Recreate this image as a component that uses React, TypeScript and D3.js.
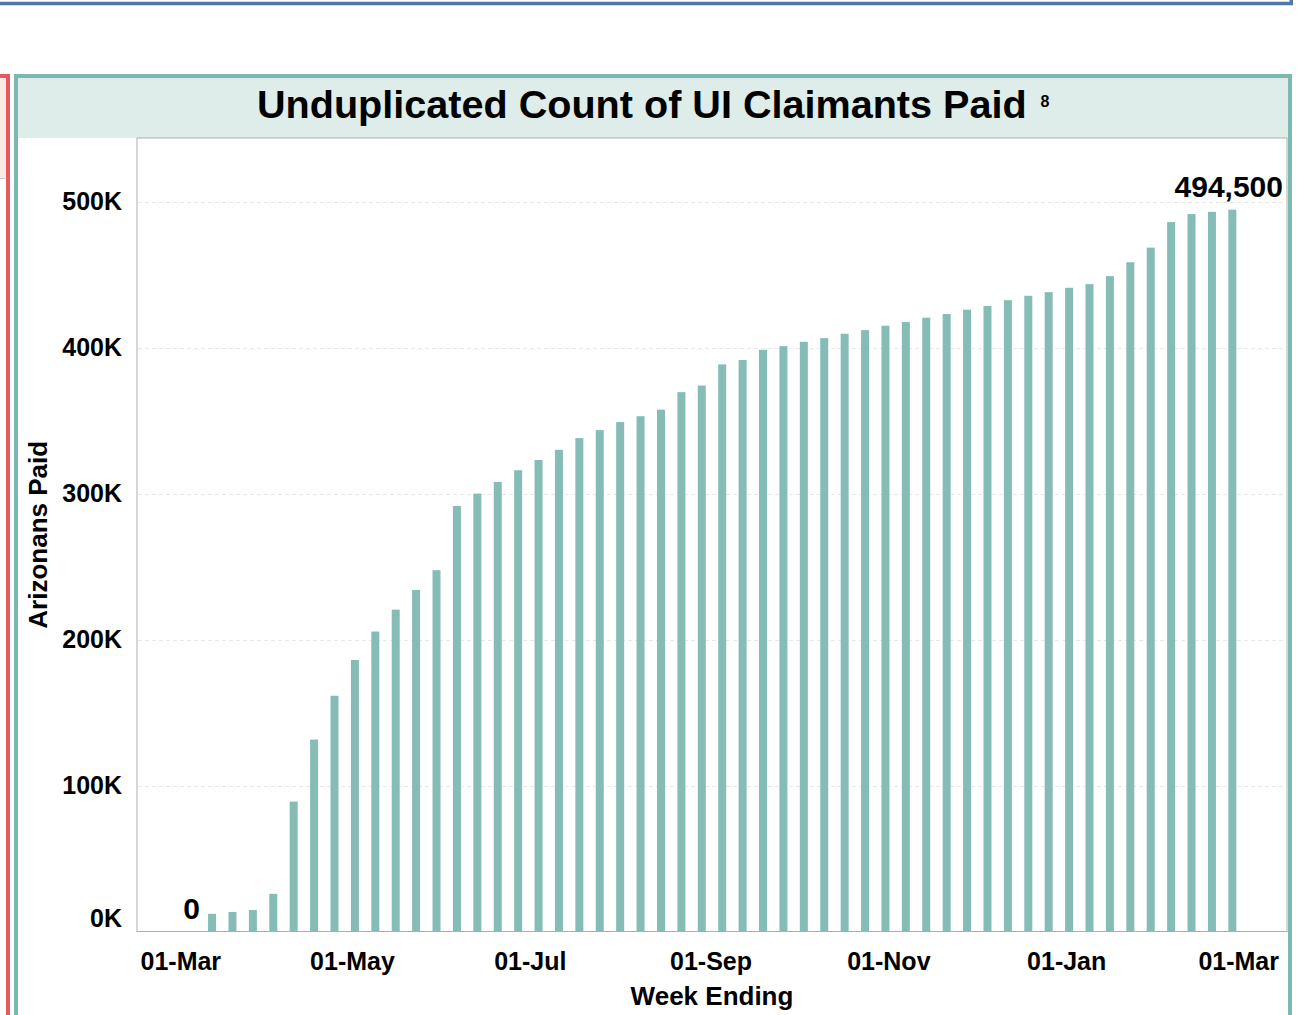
import React, { useEffect, useRef } from 'react'
import * as d3 from 'd3'

// week ending (Saturdays) Mar 7 2020 .. Feb 27 2021
const weekEnding = d3.timeSaturday.range(new Date(2020, 2, 7), new Date(2021, 2, 1))

// unduplicated count of UI claimants paid, cumulative
const claimantsPaid = [
  0, 12100, 13400, 14700, 25800, 89000, 131500, 161500, 186000, 205500,
  220500, 234000, 247500, 291500, 300000, 308000, 316000, 323000, 330000, 338000,
  343500, 349000, 353000, 357500, 369500, 374000, 388500, 391500, 398500, 401000,
  404000, 406500, 409500, 412000, 415000, 417500, 420500, 423000, 426000, 428500,
  432500, 435500, 438000, 441000, 443500, 449000, 458500, 468500, 486000, 491500,
  493000, 494500
]

const yTicks = [0, 100000, 200000, 300000, 400000, 500000]
const xTicks = [
  new Date(2020, 2, 1), new Date(2020, 4, 1), new Date(2020, 6, 1), new Date(2020, 8, 1),
  new Date(2020, 10, 1), new Date(2021, 0, 1), new Date(2021, 2, 1)
]
// only first and last marks get a label (Tableau min/max labels)
const labelled = [0, claimantsPaid.length - 1]

const TITLE = 'Unduplicated Count of UI Claimants Paid'
const FONT = '"Liberation Sans", Arial, sans-serif'

export default function App() {
  const ref = useRef<SVGSVGElement>(null)

  useEffect(() => {
    const svg = d3.select(ref.current)
    svg.selectAll('*').remove()

    const W = 1305, H = 1015
    const plot = { left: 137, top: 138, right: 1287, bottom: 931.5 }

    const x = d3.scaleTime()
      .domain([new Date(2020, 1, 17, 6), new Date(2021, 2, 17, 18)])
      .range([plot.left, plot.right])
    const y = d3.scaleLinear().domain([0, 543600]).range([plot.bottom, plot.top])

    svg.attr('font-family', FONT).attr('font-weight', 'bold')

    // dashboard frames around the chart
    svg.append('rect').attr('x', -100).attr('y', -100).attr('width', 1391.3).attr('height', 103.5)
      .attr('fill', 'none').attr('stroke', '#4e79a7').attr('stroke-width', 3.5)

    svg.append('rect').attr('x', 0).attr('y', 78).attr('width', 6).attr('height', 100).attr('fill', '#fbe9e3')
    svg.append('line').attr('x1', 0).attr('x2', 5).attr('y1', 178.5).attr('y2', 178.5)
      .attr('stroke', '#c8c8c8')
    svg.append('rect').attr('x', -200).attr('y', 76).attr('width', 208).attr('height', 1100)
      .attr('fill', 'none').attr('stroke', '#e45b5d').attr('stroke-width', 4)

    svg.append('rect').attr('x', 18).attr('y', 78).attr('width', 1270).attr('height', 60).attr('fill', '#deede9')
    svg.append('rect').attr('x', 16).attr('y', 76).attr('width', 1274).attr('height', 1100)
      .attr('fill', 'none').attr('stroke', '#7ab8b0').attr('stroke-width', 4)

    // title
    const title = svg.append('text').attr('x', 257).attr('y', 118)
      .attr('font-size', 39.6).attr('fill', '#000').text(TITLE)
    title.append('tspan').attr('dx', 14).attr('dy', -11).attr('font-size', 16).text('8')

    // pane
    svg.append('rect').attr('x', plot.left).attr('y', plot.top)
      .attr('width', plot.right - plot.left).attr('height', plot.bottom - plot.top)
      .attr('fill', '#fff').attr('stroke', '#adadad').attr('stroke-width', 1)

    svg.append('g').selectAll('line')
      .data(yTicks.filter(d => d > 0))
      .join('line')
      .attr('x1', plot.left + 1).attr('x2', plot.right - 1)
      .attr('y1', d => Math.round(y(d)) + 0.5).attr('y2', d => Math.round(y(d)) + 0.5)
      .attr('stroke', '#e8e8e8').attr('stroke-dasharray', '4,3')

    // bars
    svg.append('g').selectAll('rect')
      .data(claimantsPaid)
      .join('rect')
      .attr('x', (d, i) => x(weekEnding[i]) - 4)
      .attr('width', 8)
      .attr('y', d => y(d))
      .attr('height', d => plot.bottom - y(d))
      .attr('fill', '#86bcb6')

    // y axis
    const yAxis = svg.append('g').attr('transform', `translate(${plot.left},0)`)
      .call(d3.axisLeft(y).tickValues(yTicks).tickSize(0).tickPadding(15)
        .tickFormat(d => (+d / 1000) + 'K'))
    yAxis.select('.domain').remove()
    yAxis.selectAll('text').attr('font-size', 25).attr('font-family', FONT).attr('fill', '#000')
      .attr('y', d => (+d === 0 ? -13.5 : 0))

    // x axis
    const xAxis = svg.append('g').attr('transform', `translate(0,${plot.bottom})`)
      .call(d3.axisBottom(x).tickValues(xTicks).tickSize(0).tickPadding(20.75)
        .tickFormat(d3.timeFormat('%d-%b') as any))
    xAxis.select('.domain').remove()
    xAxis.selectAll('text').attr('font-size', 25).attr('font-family', FONT).attr('fill', '#000')
    xAxis.selectAll<SVGTextElement, Date>('text').each(function (d) {
      const w = this.getComputedTextLength()
      const cx = x(d)
      if (cx - w / 2 < plot.left + 3) d3.select(this).attr('x', plot.left + 3 + w / 2 - cx)
      if (cx + w / 2 > plot.right - 3) d3.select(this).attr('x', plot.right - 3 - w / 2 - cx)
    })

    // axis titles
    svg.append('text').attr('x', (plot.left + plot.right) / 2).attr('y', 1005)
      .attr('text-anchor', 'middle').attr('font-size', 26).text('Week Ending')
    svg.append('text').attr('transform', `translate(47,${(plot.top + plot.bottom) / 2}) rotate(-90)`)
      .attr('text-anchor', 'middle').attr('font-size', 26).text('Arizonans Paid')

    // mark labels, kept inside the pane
    svg.append('g').selectAll('text')
      .data(labelled)
      .join('text')
      .attr('x', i => x(weekEnding[i]))
      .attr('y', i => y(claimantsPaid[i]) - 13)
      .attr('text-anchor', 'middle')
      .attr('font-size', 30)
      .text(i => d3.format(',')(claimantsPaid[i]))
      .each(function (i) {
        const w = this.getComputedTextLength()
        const cx = x(weekEnding[i])
        if (cx + w / 2 > plot.right - 4) d3.select(this).attr('x', plot.right - 4 - w / 2)
      })

    svg.attr('width', W).attr('height', H)
  }, [])

  return (
    <svg ref={ref} width={1305} height={1015}
      style={{ position: 'absolute', left: 0, top: 0, background: '#fff' }} />
  )
}
